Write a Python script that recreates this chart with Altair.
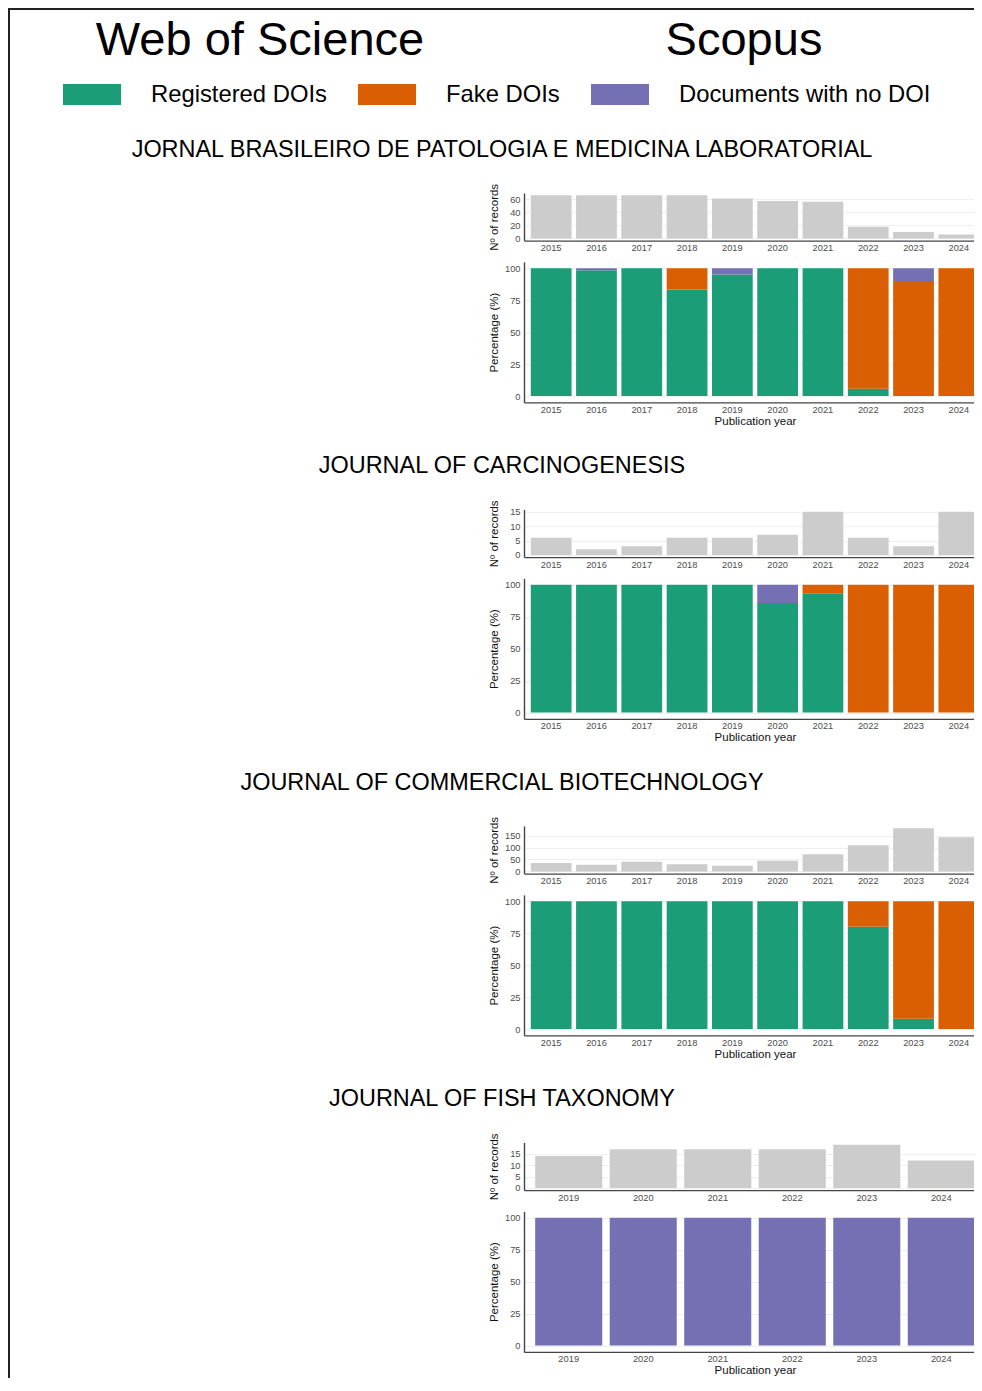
import altair as alt
import pandas as pd

# ---------------- data ----------------
years_a = ["2015", "2016", "2017", "2018", "2019", "2020", "2021", "2022", "2023", "2024"]
years_b = ["2019", "2020", "2021", "2022", "2023", "2024"]

journals = [
    "JORNAL BRASILEIRO DE PATOLOGIA E MEDICINA LABORATORIAL",
    "JOURNAL OF CARCINOGENESIS",
    "JOURNAL OF COMMERCIAL BIOTECHNOLOGY",
    "JOURNAL OF FISH TAXONOMY",
]

categories = ["Registered DOIs", "Fake DOIs", "Documents with no DOI"]
palette = ["#1b9e77", "#d95f02", "#7570b3"]

# Jornal Brasileiro de Patologia e Medicina Laboratorial
records_1 = [66, 66, 66, 66, 61, 57, 56, 18, 10, 6]
registered_1 = [100, 98.5, 100, 83.3, 95.1, 100, 100, 5.6, 0, 0]
fake_1 = [0, 0, 0, 16.7, 0, 0, 0, 94.4, 90, 100]
nodoi_1 = [0, 1.5, 0, 0, 4.9, 0, 0, 0, 10, 0]
ticks_1 = [0, 20, 40, 60]

# Journal of Carcinogenesis
records_2 = [6, 2, 3, 6, 6, 7, 15, 6, 3, 15]
registered_2 = [100, 100, 100, 100, 100, 85.7, 93.3, 0, 0, 0]
fake_2 = [0, 0, 0, 0, 0, 0, 6.7, 100, 100, 100]
nodoi_2 = [0, 0, 0, 0, 0, 14.3, 0, 0, 0, 0]
ticks_2 = [0, 5, 10, 15]

# Journal of Commercial Biotechnology
records_3 = [35, 28, 40, 30, 24, 45, 72, 110, 181, 143]
registered_3 = [100, 100, 100, 100, 100, 100, 100, 80, 8, 0]
fake_3 = [0, 0, 0, 0, 0, 0, 0, 20, 92, 100]
nodoi_3 = [0, 0, 0, 0, 0, 0, 0, 0, 0, 0]
ticks_3 = [0, 50, 100, 150]

# Journal of Fish Taxonomy
records_4 = [14, 17, 17, 17, 19, 12]
registered_4 = [0, 0, 0, 0, 0, 0]
fake_4 = [0, 0, 0, 0, 0, 0]
nodoi_4 = [100, 100, 100, 100, 100, 100]
ticks_4 = [0, 5, 10, 15]

pct_ticks = [0, 25, 50, 75, 100]

# ---------------- layout ----------------
FONT = "Liberation Sans"
W, H = 966, 1370
X0, X1 = 516, 978
BLOCK_STEP = 316.5
TITLE_BASE = 148.7
COUNT_TOP, COUNT_BOT = 185.0, 232.6
PCT_TOP, PCT_BOT = 253.9, 394.4

axis_common = dict(
    ticks=False, tickSize=0,
    labelFont=FONT, labelFontSize=9.3, labelColor="#4d4d4d",
    domainColor="#444444", domainWidth=1.4,
    titleFont=FONT, titleFontSize=11.5, titleColor="#111111", titleFontWeight="normal",
)

legend = alt.Legend(
    orient="none", legendX=55, legendY=57.5, direction="horizontal", title=None,
    symbolType="M-1,-0.362L1,-0.362L1,0.362L-1,0.362Z", symbolSize=3364,
    symbolStrokeWidth=0, symbolOpacity=1,
    labelFont=FONT, labelFontSize=23.8, labelColor="black", labelOffset=30,
    labelLimit=500, columnPadding=31,
)


def count_layer(k, years, counts, ticks):
    b = k * BLOCK_STEP
    m = max(counts)
    df = pd.DataFrame({"year": years, "n": counts})
    return alt.Chart(df).mark_bar(color="#cccccc").encode(
        x=alt.X("year:O", sort=years,
                scale=alt.Scale(range=[X0, X1], paddingInner=0.1, paddingOuter=0.15),
                axis=alt.Axis(orient="bottom", offset=COUNT_BOT + b - H, title=None,
                              labelAngle=0, labelPadding=3, grid=False, **axis_common)),
        y=alt.Y("n:Q",
                scale=alt.Scale(domain=[-0.05 * m, 1.05 * m], range=[COUNT_BOT + b, COUNT_TOP + b],
                                nice=False, zero=False),
                axis=alt.Axis(orient="left", offset=-X0, values=ticks, title="Nº of records",
                              titleX=-30, titleY=(COUNT_TOP + COUNT_BOT) / 2 + b,
                              titleAngle=270, titleAlign="center", titleBaseline="middle",
                              labelPadding=4, grid=True, gridColor="#ebebeb", gridWidth=0.8,
                              **axis_common)),
    )


def pct_layer(k, years, reg, fake, nodoi):
    b = k * BLOCK_STEP
    rows = []
    for i, y in enumerate(years):
        for j, (c, v) in enumerate(zip(categories, [reg[i], fake[i], nodoi[i]])):
            if v > 0:
                rows.append({"year": y, "cat": c, "pct": v, "ord": j})
    df = pd.DataFrame(rows)
    return alt.Chart(df).mark_bar().encode(
        x=alt.X("year:O", sort=years,
                scale=alt.Scale(domain=years, range=[X0, X1], paddingInner=0.1, paddingOuter=0.15),
                axis=alt.Axis(orient="bottom", offset=PCT_BOT + b - H, title="Publication year",
                              titleY=19, titleBaseline="middle",
                              labelAngle=0, labelPadding=3, grid=False, **axis_common)),
        y=alt.Y("pct:Q", stack="zero",
                scale=alt.Scale(domain=[-5, 105], range=[PCT_BOT + b, PCT_TOP + b],
                                nice=False, zero=False),
                axis=alt.Axis(orient="left", offset=-X0, values=pct_ticks, title="Percentage (%)",
                              titleX=-30, titleY=(PCT_TOP + PCT_BOT) / 2 + b,
                              titleAngle=270, titleAlign="center", titleBaseline="middle",
                              labelPadding=4, grid=True, gridColor="#ebebeb", gridWidth=0.8,
                              **axis_common)),
        color=alt.Color("cat:N", scale=alt.Scale(domain=categories, range=palette), legend=legend),
        order=alt.Order("ord:Q", sort="ascending"),
    )


def text_layer(s, x, y, size):
    return alt.Chart(pd.DataFrame({"t": [s]})).mark_text(
        font=FONT, fontSize=size, color="black", align="center", baseline="alphabetic"
    ).encode(text="t:N", x=alt.value(x), y=alt.value(y))


one = pd.DataFrame({"a": [0]})
frame_left = alt.Chart(one).mark_rule(color="#222222", strokeWidth=2).encode(
    x=alt.value(1), y=alt.value(0), y2=alt.value(H))
frame_top = alt.Chart(one).mark_rule(color="#222222", strokeWidth=2).encode(
    x=alt.value(0), x2=alt.value(W), y=alt.value(1))

layers = [frame_left, frame_top,
          text_layer("Web of Science", 252, 47, 47),
          text_layer("Scopus", 736, 47, 47)]

data_sets = [
    (years_a, records_1, registered_1, fake_1, nodoi_1, ticks_1),
    (years_a, records_2, registered_2, fake_2, nodoi_2, ticks_2),
    (years_a, records_3, registered_3, fake_3, nodoi_3, ticks_3),
    (years_b, records_4, registered_4, fake_4, nodoi_4, ticks_4),
]

for k, (yrs, rec, reg, fk, nd, tk) in enumerate(data_sets):
    layers.append(text_layer(journals[k], 494, TITLE_BASE + k * BLOCK_STEP, 23.45))
    layers.append(count_layer(k, yrs, rec, tk))
    layers.append(pct_layer(k, yrs, reg, fk, nd))

chart = alt.layer(*layers).resolve_scale(
    x="independent", y="independent", color="shared"
).resolve_axis(
    x="independent", y="independent"
).properties(
    width=W, height=H, padding=0,
    autosize=alt.AutoSizeParams(type="none"),
).configure_view(stroke=None).configure(background="white")

chart.save("out.html", embed_options={"renderer": "svg", "actions": False})
